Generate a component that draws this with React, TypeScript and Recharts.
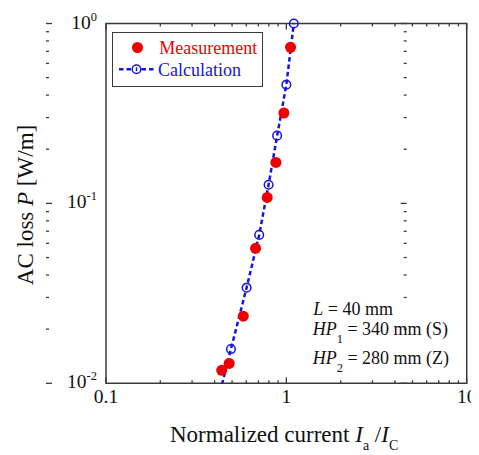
import { ScatterChart, Scatter, XAxis, YAxis, ReferenceArea, Legend } from "recharts";

// Measured points
const MEAS_X = [0.438, 0.482, 0.577, 0.675, 0.783, 0.875, 0.969, 1.055];
const MEAS_Y = [0.0118, 0.0129, 0.0236, 0.0563, 0.108, 0.169, 0.318, 0.738];

// Calculated points (first one lies below the plotted range, only its line shows)
const CALC_X = [0.4, 0.493, 0.602, 0.707, 0.797, 0.889, 1.0, 1.1];
const CALC_Y = [0.0068, 0.0155, 0.034, 0.0668, 0.127, 0.238, 0.457, 1.0];

const X_TICKS = [0.1, 0.2, 0.3, 0.4, 0.5, 0.6, 0.7, 0.8, 0.9, 1, 2, 3, 4, 5, 6, 7, 8, 9, 10];
const X_MAJOR = [0.1, 1, 10];
const X_MAJOR_LABELS = ["0.1", "1", "10"];
const Y_TICKS = [0.01, 0.02, 0.03, 0.04, 0.05, 0.06, 0.07, 0.08, 0.09, 0.1, 0.2, 0.3, 0.4, 0.5, 0.6, 0.7, 0.8, 0.9, 1];
const Y_MAJOR = [0.01, 0.1, 1];
const Y_MAJOR_EXP = ["-2", "-1", "0"];

const X_DOMAIN = [0.1, 10];
const Y_DOMAIN = [0.01, 1];

const RED = "#ee0000";
const BLUE = "#1414e0";
const AXIS = "#3a3a3a";
const INK = "#111";
const SERIF = "Liberation Serif";
const SERIF_ALT = "'Liberation Serif', 'Times New Roman', Times, 'DejaVu Serif', serif";

const W = 471;
const H = 447;
const MARGIN = { top: 15.5, right: 12.3, bottom: 11.7, left: 0 };
const Y_AXIS_W = 98;
const X_AXIS_H = 60;
const PLOT_L = MARGIN.left + Y_AXIS_W;
const PLOT_T = MARGIN.top;
const PLOT_W = W - MARGIN.left - MARGIN.right - Y_AXIS_W;
const PLOT_H = H - MARGIN.top - MARGIN.bottom - X_AXIS_H;

const meas = MEAS_X.map((x, i) => ({ x, y: MEAS_Y[i] }));
const calcLine = CALC_X.map((x, i) => ({ x, y: CALC_Y[i] }));
const calcPts = calcLine.filter((p) => p.y >= Y_DOMAIN[0]);

const isMajor = (list: number[], v: number) => list.some((m) => Math.abs(m - v) < 1e-9);

// position of a tick label along the (log) axes, same mapping as the plot frame
const logPos = (v: number, [a, b]: number[]) => (Math.log10(v) - Math.log10(a)) / (Math.log10(b) - Math.log10(a));

function XTick(props: any) {
  const { x, y, payload } = props;
  const len = isMajor(X_MAJOR, payload.value) ? 6 : 3;
  return (
    <g>
      <line x1={x} y1={y} x2={x} y2={y - len} stroke={AXIS} strokeWidth={1.3} />
      <line x1={x} y1={y - PLOT_H} x2={x} y2={y - PLOT_H + len} stroke={AXIS} strokeWidth={1.3} />
    </g>
  );
}

function YTick(props: any) {
  const { x, y, payload } = props;
  const len = isMajor(Y_MAJOR, payload.value) ? 6 : 3;
  return (
    <g>
      <line x1={x} y1={y} x2={x + len} y2={y} stroke={AXIS} strokeWidth={1.3} />
      <line x1={x + PLOT_W} y1={y} x2={x + PLOT_W - len} y2={y} stroke={AXIS} strokeWidth={1.3} />
    </g>
  );
}

const RedDot = (p: any) => <circle cx={p.cx} cy={p.cy} r={5.5} fill={RED} />;
const OpenCircle = (p: any) => <circle cx={p.cx} cy={p.cy} r={4.3} fill="none" stroke={BLUE} strokeWidth={1.5} />;

const SERIES_ORDER = ["Measurement", "Calculation"];

// legend box plus all the chart's texts
function Overlay({ payload }: any) {
  const names = ((payload ?? []) as { value: string }[]).map((it) => it.value);
  const items = SERIES_ORDER.filter((n) => names.includes(n));
  const txt = { fontFamily: SERIF };
  const txtAlt = { fontFamily: SERIF_ALT };
  return (
    <div style={{ position: "relative", width: W, height: H, pointerEvents: "none" }}>
      <svg width={W} height={H} style={{ position: "absolute", left: 0, top: 0 }} fill={INK}>
        {X_MAJOR.map((v, i) => (
          <text
            key={v}
            x={PLOT_L + logPos(v, X_DOMAIN) * PLOT_W}
            y={PLOT_T + PLOT_H + 20}
            textAnchor="middle"
            fontSize={19.5}
            style={txtAlt}
          >
            {X_MAJOR_LABELS[i]}
          </text>
        ))}
        {Y_MAJOR.map((v, i) => (
          <text
            key={v}
            x={PLOT_L - 9}
            y={PLOT_T + (1 - logPos(v, Y_DOMAIN)) * PLOT_H + 5}
            textAnchor="end"
            fontSize={19.5}
            style={txt}
          >
            10
            <tspan dy={-8} fontSize={12.5}>
              {Y_MAJOR_EXP[i]}
            </tspan>
          </text>
        ))}
        <text x={25} y={197} transform="rotate(-90 25 197)" textAnchor="middle" fontSize={23} style={txt}>
          {"AC loss "}
          <tspan fontStyle="italic">P</tspan>
          {" [W/m]"}
        </text>
        <text x={162} y={433.7} fontSize={23} style={txtAlt}>
          {"Normalized current "}
          <tspan fontStyle="italic">I</tspan>
          <tspan fontSize={14} dy={8}>
            a
          </tspan>
          <tspan dy={-8}>{" /"}</tspan>
          <tspan fontStyle="italic">I</tspan>
          <tspan fontSize={14} dy={8}>
            C
          </tspan>
        </text>
        <g fontSize={18} style={txtAlt}>
          <text x={305.3} y={307}>
            <tspan fontStyle="italic">L</tspan>
            {" = 40 mm"}
          </text>
          <text x={304.7} y={327}>
            <tspan fontStyle="italic">HP</tspan>
            <tspan fontSize={12.5} dy={7.7}>
              1
            </tspan>
            <tspan dy={-7.7}>{" = 340 mm (S)"}</tspan>
          </text>
          <text x={304.7} y={356}>
            <tspan fontStyle="italic">HP</tspan>
            <tspan fontSize={12.5} dy={7.7}>
              2
            </tspan>
            <tspan dy={-7.7}>{" = 280 mm (Z)"}</tspan>
          </text>
        </g>
      </svg>
      <div
        style={{
          position: "absolute",
          left: 104.3,
          top: 24,
          width: 151,
          height: 55,
          border: `1.5px solid ${AXIS}`,
          boxSizing: "border-box",
          background: "#fff",
        }}
      >
        <svg width={148} height={52} style={{ display: "block" }}>
          {items.map((name, i) => {
            const isMeas = name === "Measurement";
            const cy = i === 0 ? 14.5 : 36.2;
            return (
              <g key={name}>
                {isMeas ? (
                  <circle cx={24.5} cy={cy} r={5.5} fill={RED} />
                ) : (
                  <>
                    <line x1={6} x2={42} y1={cy} y2={cy} stroke={BLUE} strokeWidth={2.5} strokeDasharray="4.5 3" />
                    <circle cx={23.5} cy={cy} r={4.3} fill="#fff" stroke={BLUE} strokeWidth={1.5} />
                    <line x1={23.5} x2={23.5} y1={cy - 2} y2={cy + 2} stroke={BLUE} strokeWidth={1.5} />
                  </>
                )}
                <text x={isMeas ? 46.2 : 45} y={cy + 6.6} fontSize={18} fill={isMeas ? RED : BLUE} style={txt}>
                  {name}
                </text>
              </g>
            );
          })}
        </svg>
      </div>
    </div>
  );
}

export default function App() {
  return (
    <div style={{ width: W, height: H, fontFamily: SERIF, color: INK }}>
      <ScatterChart width={W} height={H} margin={MARGIN}>
        <XAxis
          type="number"
          dataKey="x"
          scale="log"
          domain={X_DOMAIN}
          ticks={X_TICKS}
          interval={0}
          tick={(p: any) => <XTick {...p} />}
          tickLine={false}
          axisLine={false}
          tickSize={0}
          tickMargin={0}
          height={X_AXIS_H}
        />
        <YAxis
          yAxisId="main"
          type="number"
          dataKey="y"
          scale="log"
          domain={Y_DOMAIN}
          ticks={Y_TICKS}
          interval={0}
          tick={(p: any) => <YTick {...p} />}
          tickLine={false}
          axisLine={false}
          tickSize={0}
          tickMargin={0}
          width={Y_AXIS_W}
        />
        <YAxis yAxisId="clip" type="number" dataKey="y" scale="log" domain={Y_DOMAIN} allowDataOverflow hide />
        <ReferenceArea
          yAxisId="main"
          x1={X_DOMAIN[0]}
          x2={X_DOMAIN[1]}
          y1={Y_DOMAIN[0]}
          y2={Y_DOMAIN[1]}
          fill="none"
          stroke={AXIS}
          strokeWidth={1.5}
          ifOverflow="visible"
        />
        <Scatter
          yAxisId="clip"
          data={calcLine}
          fill={BLUE}
          line={{ stroke: BLUE, strokeWidth: 2.5, strokeDasharray: "4.5 3" }}
          shape={() => <g />}
          legendType="none"
          isAnimationActive={false}
        />
        <Scatter yAxisId="main" name="Measurement" data={meas} fill={RED} shape={RedDot} isAnimationActive={false} />
        <Scatter yAxisId="main" name="Calculation" data={calcPts} fill={BLUE} shape={OpenCircle} isAnimationActive={false} />
        <Legend
          layout="horizontal"
          verticalAlign="middle"
          align="center"
          wrapperStyle={{ top: 0, left: 0, width: W, height: H, pointerEvents: "none" }}
          content={(p: any) => <Overlay {...p} />}
        />
      </ScatterChart>
    </div>
  );
}
